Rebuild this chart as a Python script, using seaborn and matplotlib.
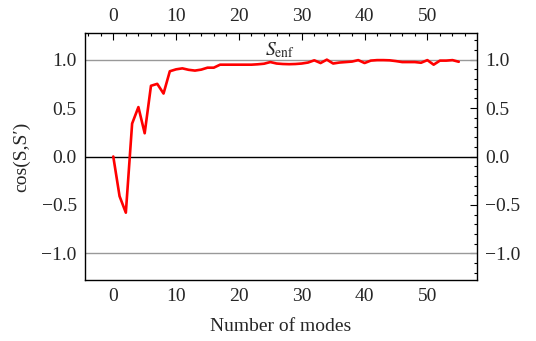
import numpy as np
import pandas as pd
import matplotlib
matplotlib.use("Agg")
import matplotlib.pyplot as plt
from matplotlib.ticker import MultipleLocator, FuncFormatter
import seaborn as sns

# ---- data ----
modes = list(range(0, 56))
cosine = [0.0, -0.41, -0.58, 0.34, 0.51, 0.24, 0.73, 0.75, 0.65, 0.88,
          0.90, 0.91, 0.895, 0.887, 0.897, 0.917, 0.917, 0.948, 0.948, 0.948,
          0.948, 0.948, 0.948, 0.952, 0.958, 0.975, 0.96, 0.955, 0.953, 0.955,
          0.96, 0.97, 0.993, 0.965, 1.0, 0.96, 0.97, 0.975, 0.98, 0.995,
          0.965, 0.99, 0.995, 0.995, 0.993, 0.985, 0.975, 0.975, 0.975, 0.968,
          0.995, 0.948, 0.99, 0.99, 0.995, 0.978]
x_label = "Number of modes"
y_label = "cos(S,S\u2032)"
annot = r"$S_{\mathrm{enf}}$"

df = pd.DataFrame({"modes": modes, "cos": cosine})

sns.set_theme(style="white")
plt.rcParams["font.family"] = ["Liberation Serif", "DejaVu Serif"]
plt.rcParams["mathtext.fontset"] = "stix"
fs = 14

fig = plt.figure(figsize=(5.36, 3.41), dpi=100)
ax = fig.add_axes([0.1586, 0.1789, 0.8899 - 0.1586, 0.9032 - 0.1789])

ax.axhline(1.0, color="#999999", lw=1.0, zorder=1)
ax.axhline(-1.0, color="#999999", lw=1.0, zorder=1)
ax.axhline(0.0, color="black", lw=1.0, zorder=1)

sns.lineplot(data=df, x="modes", y="cos", ax=ax, color="red", lw=1.9,
             zorder=3, legend=False)

ax.set_xlim(-4.5, 57.9)
ax.set_ylim(-1.275, 1.275)

ax.xaxis.set_major_locator(MultipleLocator(10))
ax.xaxis.set_minor_locator(MultipleLocator(2))
ax.yaxis.set_major_locator(MultipleLocator(0.5))
ax.yaxis.set_minor_locator(MultipleLocator(0.1))


def yfmt(v, pos):
    s = "%.1f" % abs(v)
    return ("\u2212" + s) if v < -1e-9 else s


ax.yaxis.set_major_formatter(FuncFormatter(yfmt))

ax.tick_params(which="both", direction="in", top=True, right=True,
               labeltop=True, labelright=True, labelsize=fs, color="black",
               width=0.8)
ax.tick_params(which="major", length=5, pad=6)
ax.tick_params(which="minor", length=2.5)

for s in ax.spines.values():
    s.set_color("black")
    s.set_linewidth(1.0)

ax.set_xlabel(x_label, fontsize=fs, labelpad=9)
ax.set_ylabel(y_label, fontsize=fs, labelpad=8)

ax.text(26.6, 1.0, annot, fontsize=fs, ha="center", va="bottom")

fig.savefig("out.png", dpi=100)
